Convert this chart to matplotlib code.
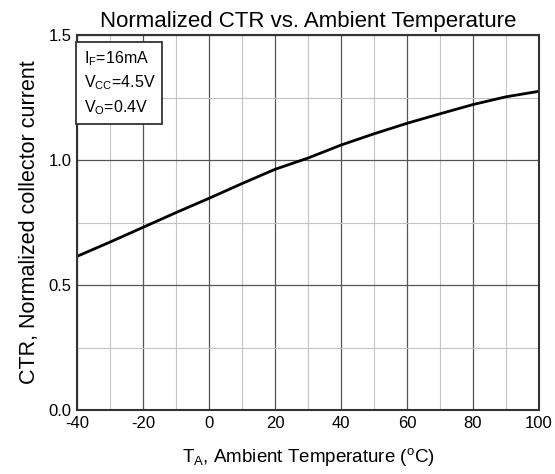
import numpy as np
import matplotlib.pyplot as plt
from matplotlib.ticker import MultipleLocator

plt.rcParams['font.family'] = ['Liberation Sans', 'DejaVu Sans']
plt.rcParams['mathtext.fontset'] = 'custom'
plt.rcParams['mathtext.rm'] = 'Liberation Sans'
plt.rcParams['mathtext.it'] = 'Liberation Sans'
plt.rcParams['axes.unicode_minus'] = False

# curve
temp = [-40, -30, -20, -10, 0, 10, 20, 30, 40, 50, 60, 70, 80, 90, 100]
ctr = [0.615, 0.672, 0.731, 0.79, 0.847, 0.906, 0.963, 1.008, 1.06,
       1.105, 1.147, 1.185, 1.222, 1.253, 1.275]

fig = plt.figure(figsize=(5.55, 4.74), dpi=100)
ax = fig.add_axes([0.139, 0.135, 0.832, 0.791])

ax.plot(temp, ctr, color='black', linewidth=2)

ax.set_xlim(-40, 100)
ax.set_ylim(0, 1.5)
ax.xaxis.set_major_locator(MultipleLocator(20))
ax.xaxis.set_minor_locator(MultipleLocator(10))
ax.yaxis.set_major_locator(MultipleLocator(0.5))
ax.yaxis.set_minor_locator(MultipleLocator(0.25))
ax.yaxis.set_major_formatter(plt.FormatStrFormatter('%.1f'))
ax.grid(which='major', color='#555555', linewidth=0.9)
ax.grid(which='minor', color='#c4c4c4', linewidth=0.8)
ax.tick_params(which='both', length=0, labelsize=12, pad=4)
for s in ax.spines.values():
    s.set_color('#333333')
    s.set_linewidth(1.5)

ax.set_title('Normalized CTR vs. Ambient Temperature', fontsize=16, pad=6)
ax.set_xlabel(r'T$_\mathregular{A}$, Ambient Temperature ($^\mathregular{o}$C)', fontsize=13.5, labelpad=11)
ax.set_ylabel('CTR, Normalized collector current', fontsize=15.5, labelpad=6)

ax.text(0.014, 0.962, 'I$_\\mathregular{F}$=16mA\nV$_\\mathregular{CC}$=4.5V\nV$_\\mathregular{O}$=0.4V',
        transform=ax.transAxes, va='top', ha='left', fontsize=11.5, linespacing=1.4,
        bbox=dict(boxstyle='square,pad=0.45', facecolor='white', edgecolor='#333333', linewidth=1.3))

plt.savefig('out.png', dpi=100)
